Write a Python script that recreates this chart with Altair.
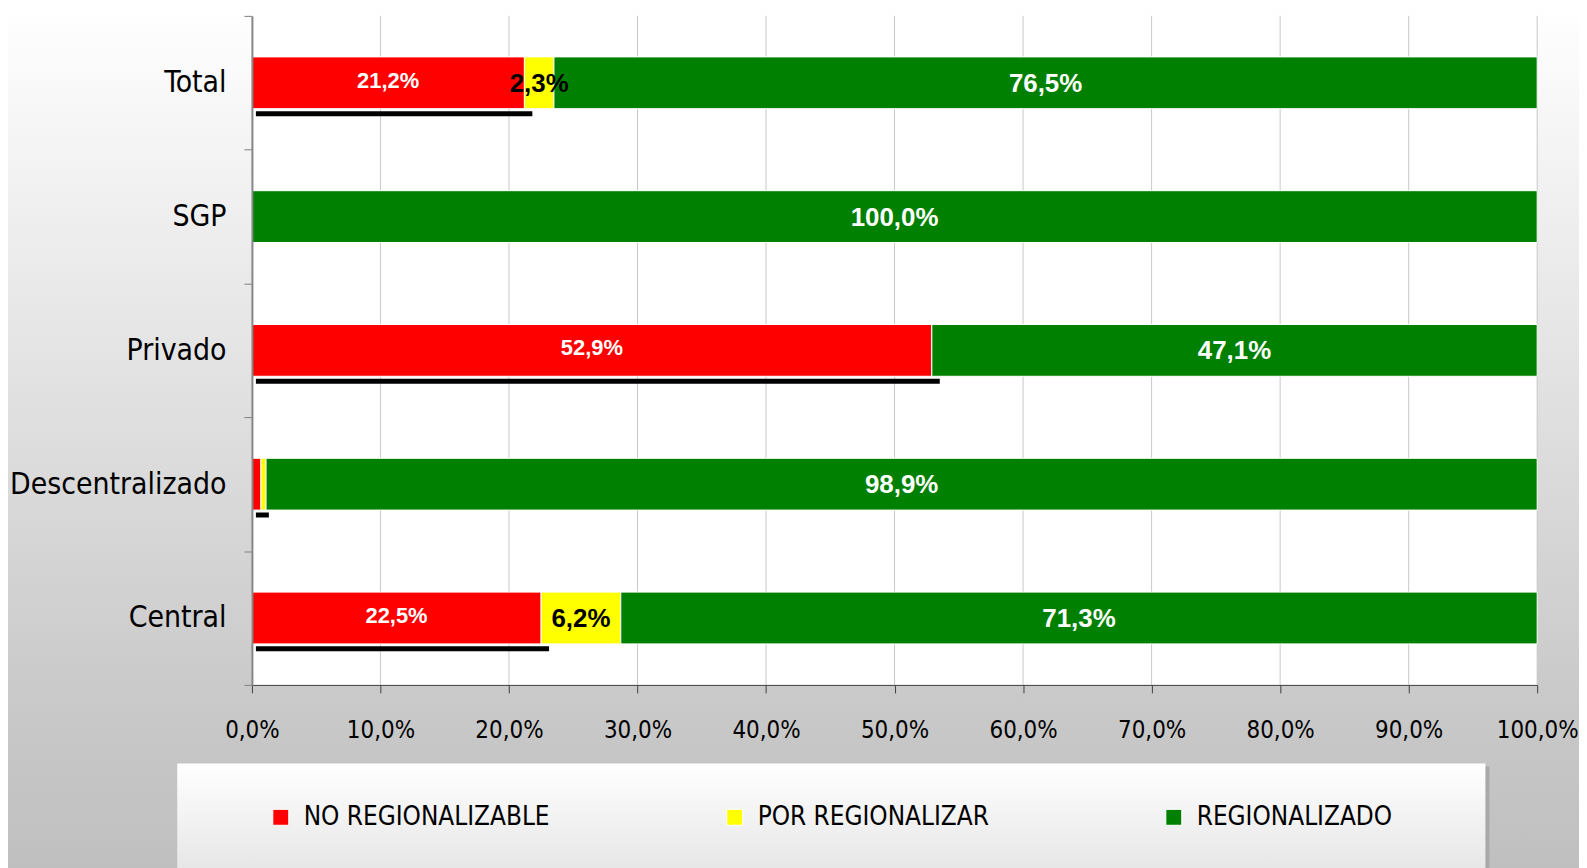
import altair as alt
import pandas as pd

categories = ["Total", "SGP", "Privado", "Descentralizado", "Central"]
series = ["NO REGIONALIZABLE", "POR REGIONALIZAR", "REGIONALIZADO"]
no_regionalizable = [21.2, 0.0, 52.9, 0.7, 22.5]
por_regionalizar = [2.3, 0.0, 0.0, 0.4, 6.2]
regionalizado = [76.5, 100.0, 47.1, 98.9, 71.3]
x_ticks = [0, 10, 20, 30, 40, 50, 60, 70, 80, 90, 100]
colors = ["#FF0000", "#FFFF00", "#008000"]

NARROW = "Liberation Sans Narrow, Arial Narrow, DejaVu Sans Condensed, sans-serif"
BOLD = "Liberation Sans, Arial, sans-serif"

rows = []
for i, c in enumerate(categories):
    start = 0.0
    for j, vals in enumerate([no_regionalizable, por_regionalizar, regionalizado]):
        v = vals[i]
        rows.append(dict(cat=c, serie=series[j], ord=j, value=v, start=start,
                         end=start + v, mid=start + v / 2,
                         label=f"{v:.1f}".replace(".", ",") + "%"))
        start += v
df = pd.DataFrame(rows)
df_red = df[(df.ord == 0) & (df.value > 0)]
grid_df = pd.DataFrame({"t": x_ticks[1:]})
one = pd.DataFrame({"k": [0]})

W, H = 1291, 672

xs = alt.Scale(domain=[0, 100], nice=False, zero=True)
ys = alt.Scale(domain=categories, paddingInner=0, paddingOuter=0)

XAX = alt.Axis(values=x_ticks, orient="bottom", title=None, grid=False, zindex=1,
               labelExpr="replace(format(datum.value, '.1f'), '.', ',') + '%'",
               tickSize=8, tickColor="#404040", domainColor="#404040", domainWidth=1,
               labelFont=NARROW, labelFontSize=24, labelColor="black",
               labelPadding=26, labelFlush=False)
YAX = alt.Axis(title=None, orient="left", tickBand="extent", tickSize=8,
               tickColor="#808080", domainColor="#868686", domainWidth=2, zindex=1,
               labelFont=NARROW, labelFontSize=30, labelColor="black",
               labelPadding=18, labelLimit=0)


def X(field):
    return alt.X(field, scale=xs, axis=XAX)


def Y():
    return alt.Y("cat:N", scale=ys, sort=categories, axis=YAX)


bg = alt.Chart(one).mark_rect(
    clip=False, strokeWidth=0,
    fill=alt.Gradient(gradient="linear", x1=0, x2=0, y1=0, y2=1,
                      stops=[alt.GradientStop(color="#ffffff", offset=0),
                             alt.GradientStop(color="#c9c9c9", offset=0.8),
                             alt.GradientStop(color="#bfbfbf", offset=1)])
).encode(x=alt.value(-250), x2=alt.value(W + 60), y=alt.value(-10), y2=alt.value(H + 190))

plotbg = alt.Chart(one).mark_rect(fill="white", strokeWidth=0).encode(
    x=alt.value(0), x2=alt.value(W), y=alt.value(0), y2=alt.value(H))

grid = alt.Chart(grid_df).mark_rule(color="#c8c8c8", strokeWidth=1).encode(
    x=X("t:Q"), y=alt.value(0), y2=alt.value(H))

bars = alt.Chart(df).mark_bar(size=52, stroke="white", strokeWidth=1).encode(
    x=X("start:Q"),
    x2="end:Q",
    y=Y(),
    color=alt.Color("serie:N", scale=alt.Scale(domain=series, range=colors),
                    legend=alt.Legend(orient="none", legendX=16, legendY=792,
                                      direction="horizontal", columns=3, title=None,
                                      symbolType="square", symbolSize=256,
                                      symbolStrokeColor="white", symbolStrokeWidth=1,
                                      labelFont=NARROW, labelFontSize=26,
                                      labelColor="black", labelOffset=10,
                                      columnPadding=172, padding=0, labelLimit=0)),
    order=alt.Order("ord:Q"))

under = alt.Chart(df_red).mark_bar(size=5, yOffset=31, xOffset=4, x2Offset=8,
                                   color="black").encode(
    x=X("start:Q"), x2="end:Q", y=Y())

red_text = alt.Chart(df[(df.ord == 0) & (df.value >= 1)]).mark_text(
    font=BOLD, fontWeight="bold", fontSize=22, color="white", dy=-2).encode(
    x=X("mid:Q"), y=Y(), text="label:N")

yel_text = alt.Chart(df[(df.ord == 1) & (df.value >= 1)]).mark_text(
    font=BOLD, fontWeight="bold", fontSize=26, color="black", dy=1).encode(
    x=X("mid:Q"), y=Y(), text="label:N")

grn_text = alt.Chart(df[(df.ord == 2) & (df.value >= 1)]).mark_text(
    font=BOLD, fontWeight="bold", fontSize=26, color="white", dy=1).encode(
    x=X("mid:Q"), y=Y(), text="label:N")

leg_shadow = alt.Chart(one).mark_rect(fill="#a9a9a9", strokeWidth=0, clip=False).encode(
    x=alt.value(-72), x2=alt.value(1243), y=alt.value(754), y2=alt.value(H + 200))

leg_box = alt.Chart(one).mark_rect(
    clip=False, strokeWidth=0,
    fill=alt.Gradient(gradient="linear", x1=0, x2=0, y1=0, y2=1,
                      stops=[alt.GradientStop(color="#ffffff", offset=0),
                             alt.GradientStop(color="#e3e3e3", offset=1)])
).encode(x=alt.value(-75), x2=alt.value(1239), y=alt.value(751), y2=alt.value(H + 200))

chart = alt.layer(bg, plotbg, grid, bars, under, red_text, yel_text, grn_text,
                  leg_shadow, leg_box).properties(
    width=W, height=H, autosize="none",
    padding={"left": 245, "top": 6, "right": 42, "bottom": 182},
).configure_view(stroke=None).configure(background="#c0c0c0")

chart.save("out.html", embed_options={"renderer": "svg", "actions": False})
